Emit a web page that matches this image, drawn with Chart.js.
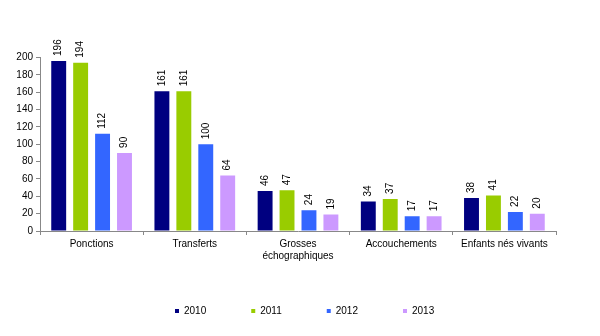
<!DOCTYPE html>
<html>
<head>
<meta charset="utf-8">
<script src="https://cdn.jsdelivr.net/npm/chart.js@4"></script>
<style>
  html, body { margin: 0; padding: 0; background: #fff; }
  #wrap { width: 600px; height: 336px; }
</style>
</head>
<body>
<div id="wrap"><canvas id="chart"></canvas></div>
<script>
const categories = ['Ponctions', 'Transferts', ['Grosses', 'échographiques'], 'Accouchements', 'Enfants nés vivants'];
const years = ['2010', '2011', '2012', '2013'];
const values2010 = [196, 161, 46, 34, 38];
const values2011 = [194, 161, 47, 37, 41];
const values2012 = [112, 100, 24, 17, 22];
const values2013 = [90, 64, 19, 17, 20];
const colors = ['#000080', '#99CC00', '#3366FF', '#CC99FF'];

const FONT = '"Liberation Sans", Arial, sans-serif';

// value labels written vertically above each bar
const barLabels = {
    id: 'barLabels',
    afterDatasetsDraw(chart) {
        const ctx = chart.ctx;
        ctx.save();
        ctx.font = '10px ' + FONT;
        ctx.fillStyle = '#000';
        ctx.textAlign = 'left';
        ctx.textBaseline = 'middle';
        chart.data.datasets.forEach((ds, i) => {
            chart.getDatasetMeta(i).data.forEach((bar, j) => {
                ctx.save();
                ctx.translate(bar.x, bar.y - 5);
                ctx.rotate(-Math.PI / 2);
                ctx.fillText(ds.data[j], 0, 0);
                ctx.restore();
            });
        });
        ctx.restore();
    }
};

// slide the legend row so the first key sits where it does in the original
const legendShift = {
    id: 'legendShift',
    afterLayout(chart) {
        const lg = chart.legend;
        if (!lg || !lg.lineWidths) return;
        const pad = lg.options.labels.padding;
        const start = (lg.left + pad + lg.right - lg.lineWidths[0]) / 2;
        const d = 175 - start;
        lg.left += d;
        lg.right += d;
    }
};

const allValues = [values2010, values2011, values2012, values2013];

new Chart(document.getElementById('chart'), {
    type: 'bar',
    data: {
        labels: categories,
        datasets: years.map((y, i) => ({
            label: y,
            data: allValues[i],
            backgroundColor: colors[i],
            borderWidth: 0,
            categoryPercentage: 0.85,
            barPercentage: 0.68
        }))
    },
    options: {
        responsive: true,
        maintainAspectRatio: false,
        animation: false,
        layout: { padding: { top: 57.5, right: 44, left: 0, bottom: 10 } },
        plugins: {
            tooltip: { enabled: false },
            legend: {
                position: 'bottom',
                labels: {
                    boxWidth: 4,
                    boxHeight: 4,
                    padding: 45,
                    color: '#000',
                    font: { family: FONT, size: 10 }
                }
            }
        },
        scales: {
            x: {
                grid: { offset: true, drawOnChartArea: false, tickLength: 4, color: '#888' },
                border: { color: '#888' },
                ticks: {
                    color: '#000',
                    maxRotation: 0,
                    padding: 3,
                    font: { family: FONT, size: 10 }
                },
                afterFit(scale) { scale.height = 30; }
            },
            y: {
                min: 0,
                max: 200,
                grid: { drawOnChartArea: false, tickLength: 4, color: '#888' },
                border: { color: '#888' },
                ticks: {
                    stepSize: 20,
                    color: '#000',
                    padding: 3,
                    font: { family: FONT, size: 10 }
                },
                afterFit(scale) { scale.width = 40; }
            }
        }
    },
    plugins: [barLabels, legendShift]
});
</script>
</body>
</html>
